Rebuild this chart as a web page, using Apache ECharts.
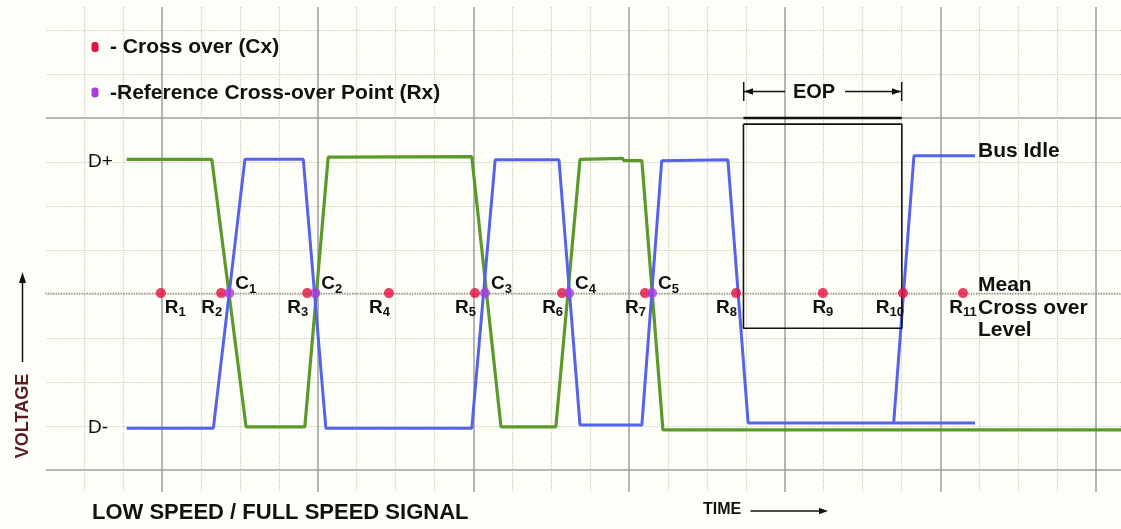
<!DOCTYPE html>
<html><head><meta charset="utf-8">
<script src="https://cdn.jsdelivr.net/npm/echarts@6/dist/echarts.min.js"></script>
<style>html,body{margin:0;padding:0;background:#fefef8;}#c{width:1121px;height:529px;}</style>
</head><body><div id="c"></div>
<script>
// x: time in grid minor divisions (major line every 4 divisions)
// y: voltage in grid divisions (D- = 1, mean cross-over level = 4, D+ = 7)
const greenX = [-0.91, 1.28, 2.16, 3.67, 4.27, 7.96, 8.71, 10.12, 10.74, 11.84, 11.87, 12.33, 12.87, 24.7];
const greenY = [7.06, 7.06, 0.98, 0.98, 7.11, 7.12, 0.98, 0.98, 7.06, 7.08, 7.03, 7.03, 0.91, 0.91];
const blueX = [-0.91, 1.32, 2.13, 3.63, 4.21, 7.96, 8.56, 10.2, 10.74, 12.33, 12.84, 14.54, 15.06, 20.89];
const blueY = [0.95, 0.95, 7.06, 7.06, 0.95, 0.95, 7.05, 7.05, 1.02, 1.02, 7.03, 7.05, 1.07, 1.07];
const blueIdleX = [18.8, 19.32, 20.89];
const blueIdleY = [1.07, 7.14, 7.14];
const meanLevel = 4.02;
const refNames = ['R1','R2','R3','R4','R5','R6','R7','R8','R9','R10','R11'];
const refX = [-0.03, 1.52, 3.73, 5.83, 8.04, 10.28, 12.41, 14.75, 16.98, 19.04, 20.58];
const crossNames = ['C1','C2','C3','C4','C5'];
const crossX = [1.73, 3.94, 8.30, 10.46, 12.59];
const eopBoxX = [14.94, 19.01, 19.01, 14.94, 14.94];
const eopBoxY = [7.86, 7.86, 3.22, 3.22, 7.86];
const eopBarX = [14.94, 19.01];
const eopBarY = [8, 8];

const FONT = '"Liberation Sans", Arial, sans-serif';
const BG = '#fefef8';
const GREEN = '#5b9a2a', BLUE = '#5563e8', RED = '#e5103c', PURPLE = '#a53fe0';
const zip = (xs, ys) => xs.map((x, i) => [x, ys[i]]);
const sig = (name, xs, ys, color, w) => ({
  type: 'line', name, data: zip(xs, ys), symbol: 'none', z: 3,
  lineStyle: { color, width: w || 3 }, silent: true
});
const sub = n => '{a|' + n.charAt(0) + '}{b|' + n.slice(1) + '}';
const noBorder = { textBorderWidth: 0, textBorderColor: 'transparent', textShadowBlur: 0, textShadowColor: 'transparent', opacity: 1 };
const rich = {
  a: Object.assign({ fontFamily: FONT, fontWeight: 'bold', fontSize: 19, color: '#111' }, noBorder),
  b: Object.assign({ fontFamily: FONT, fontWeight: 'bold', fontSize: 13, color: '#111', verticalAlign: 'bottom', padding: [0, 0, -2, 0] }, noBorder)
};
const refAlign = n => n === 'R1' ? 'left' : (n === 'R9' || n === 'R11') ? 'center' : 'right';

const chart = echarts.init(document.getElementById('c'));
const txt = (x, y, text, size, opts) => Object.assign({
  type: 'text', x, y, z: 20,
  style: Object.assign({ text, font: 'bold ' + size + 'px ' + FONT, fill: '#111',
    textAlign: 'left', textVerticalAlign: 'middle', align: 'left', verticalAlign: 'middle' }, (opts || {}).style || {})
}, opts && opts.el || {});
const ln = (x1, y1, x2, y2, w, color) => ({ type: 'line', z: 20, shape: { x1, y1, x2, y2 }, style: { stroke: color || '#111', lineWidth: w || 1.5 } });
const tri = (pts, color) => ({ type: 'polygon', z: 20, shape: { points: pts }, style: { fill: color || '#111' } });
const dotLabel = Object.assign({ show: true, color: '#111', fontWeight: 'bold', fontFamily: FONT, formatter: p => sub(p.name), rich }, noBorder);

chart.setOption({
  animation: false,
  backgroundColor: BG,
  grid: { left: 6.32, top: 7.1, width: 1117.0, height: 814.9, containLabel: false, outerBoundsMode: 'none' },
  xAxis: {
    type: 'value', min: -4, max: 24.7, interval: 4,
    axisLine: { show: false }, axisTick: { show: false }, axisLabel: { show: false },
    splitLine: { show: true, showMinLine: false, showMaxLine: false, lineStyle: { color: '#9c9c9c', width: 1.5 } },
    minorTick: { show: false, splitNumber: 4 },
    minorSplitLine: { show: true, lineStyle: { color: '#cdcdb6', type: 'dotted', width: 1.2 } }
  },
  yAxis: {
    type: 'value', min: -8, max: 10.52, interval: 8,
    axisLine: { show: false }, axisTick: { show: false }, axisLabel: { show: false },
    splitLine: { show: true, showMinLine: false, showMaxLine: false, lineStyle: { color: '#9c9c9c', width: 1.5 } },
    minorTick: { show: false, splitNumber: 8 },
    minorSplitLine: { show: true, lineStyle: { color: '#cdcdb6', type: 'dotted', width: 1.2 } }
  },
  series: [
    {
      type: 'line', data: [], silent: true, z: 0,
      markLine: { silent: true, symbol: 'none', label: { show: false },
        lineStyle: { color: '#85857a', type: 'dotted', width: 1.3 },
        data: [[{ coord: [-3, meanLevel] }, { coord: [24.7, meanLevel] }]] }
    },
    sig('D+', greenX, greenY, GREEN, 3.2),
    sig('D-', blueX, blueY, BLUE, 3),
    sig('D- idle', blueIdleX, blueIdleY, BLUE, 3),
    sig('EOP box', eopBoxX, eopBoxY, '#111', 1.6),
    sig('EOP bar', eopBarX, eopBarY, '#111', 2.4),
    {
      type: 'scatter', name: 'Rx', z: 5, symbol: 'circle', symbolSize: 10,
      itemStyle: { color: RED },
      data: refX.map((x, i) => {
        const n = refNames[i], al = refAlign(n);
        return { value: [x, meanLevel], name: n,
          label: { align: al, offset: [al === 'left' ? 4 : al === 'right' ? 1 : 0, 0] } };
      }),
      label: Object.assign({}, dotLabel, { position: 'bottom', distance: 0 }),
      emphasis: { disabled: true }
    },
    {
      type: 'scatter', name: 'Cx', z: 6, symbol: 'circle', symbolSize: 10,
      itemStyle: { color: PURPLE },
      data: crossX.map((x, i) => ({ value: [x, meanLevel], name: crossNames[i] })),
      label: Object.assign({}, dotLabel, { position: 'right', distance: 1, offset: [0, -9] }),
      emphasis: { disabled: true }
    }
  ],
  graphic: [
    { type: 'rect', z: 1, shape: { x: 0, y: 0, width: 46, height: 529 }, style: { fill: BG } },
    { type: 'rect', z: 1, shape: { x: 0, y: 492, width: 1121, height: 37 }, style: { fill: BG } },
    { type: 'rect', z: 20, shape: { x: 91.5, y: 42, width: 7, height: 10, r: 3 }, style: { fill: RED } },
    { type: 'rect', z: 20, shape: { x: 91.5, y: 87.5, width: 7, height: 10, r: 3 }, style: { fill: PURPLE } },
    txt(110, 47, '- Cross over (Cx)', 21),
    txt(110, 93, '-Reference Cross-over Point (Rx)', 21),
    txt(88, 162, 'D+', 19, { style: { font: '19px ' + FONT } }),
    txt(88, 428, 'D-', 19, { style: { font: '19px ' + FONT } }),
    txt(978, 151, 'Bus Idle', 21),
    txt(978, 274, 'Mean\nCross over\nLevel', 21, { style: { textVerticalAlign: 'top', verticalAlign: 'top', lineHeight: 22.5 } }),
    txt(814, 92, 'EOP', 20, { style: { textAlign: 'center', align: 'center' } }),
    ln(743.7, 82, 743.7, 101, 1.5), ln(744, 91.5, 785, 91.5, 1.5), tri([[744, 91.5], [753, 88.3], [753, 94.7]]),
    ln(845, 91.5, 901, 91.5, 1.5), ln(901.7, 82, 901.7, 101, 1.5), tri([[901, 91.5], [892, 88.3], [892, 94.7]]),
    txt(703, 510, 'TIME', 16),
    ln(750.5, 511, 822, 511, 1.3), tri([[828, 511], [819, 507.8], [819, 514.2]]),
    txt(92, 513, 'LOW SPEED / FULL SPEED SIGNAL', 22),
    txt(23, 416, 'VOLTAGE', 18, { style: { textAlign: 'center', align: 'center', fill: '#5a1e1e' }, el: { rotation: Math.PI / 2 } }),
    ln(22.5, 362, 22.5, 280, 1.5), tri([[22.5, 272], [19, 283], [26, 283]])
  ]
});
</script></body></html>
